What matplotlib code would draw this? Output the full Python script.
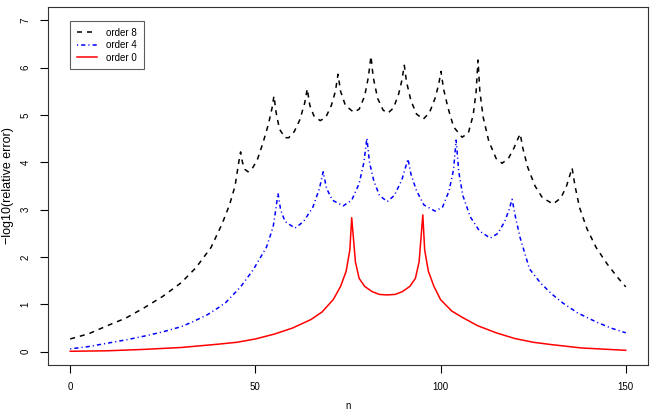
import matplotlib
matplotlib.use("Agg")
import matplotlib.pyplot as plt

plt.rcParams['font.family'] = ['Liberation Sans', 'DejaVu Sans']
plt.rcParams['lines.scale_dashes'] = False

# order 8 (black dashed)
n8 = [0, 5, 10, 15, 20, 25, 30, 34, 38, 41, 43, 44.5, 45.5, 46, 46.5, 47.2, 48,
      49, 50.5, 52, 53.5, 54.5, 55, 55.6, 56.5, 58, 59, 60.5, 62, 63.3, 64,
      64.7, 65.8, 67.5, 69, 70.5, 71.6, 72.3, 73, 74.3, 76.5, 78, 79.5, 80.5,
      81.2, 81.8, 83, 84.5, 85.8, 87.3, 88.7, 89.6, 90.2, 90.8, 92, 93.5, 95.3,
      97, 98.5, 99.5, 100.1, 100.8, 102, 103.5, 105.8, 107.5, 108.8, 109.6,
      110.1, 110.6, 111.5, 113, 115, 116.6, 118.3, 119.8, 121, 121.5, 122.2,
      123.5, 125.5, 127.5, 130.4, 132.5, 134, 135.5, 136.3, 137.5, 139.5, 142,
      145, 148, 150]
e8 = [0.27, 0.38, 0.55, 0.71, 0.93, 1.17, 1.46, 1.78, 2.20, 2.70, 3.10, 3.50,
      4.00, 4.22, 4.00, 3.85, 3.80, 3.85, 4.05, 4.40, 4.80, 5.15, 5.40, 5.05,
      4.70, 4.52, 4.52, 4.65, 4.90, 5.25, 5.55, 5.20, 4.98, 4.88, 4.95, 5.20,
      5.50, 5.86, 5.50, 5.20, 5.06, 5.12, 5.40, 5.80, 6.24, 5.80, 5.35, 5.10,
      5.04, 5.15, 5.45, 5.75, 6.05, 5.70, 5.30, 5.02, 4.91, 5.05, 5.35, 5.65,
      5.92, 5.55, 5.15, 4.75, 4.53, 4.62, 5.00, 5.50, 6.16, 5.50, 4.95, 4.45,
      4.08, 3.98, 4.08, 4.30, 4.52, 4.60, 4.30, 3.90, 3.50, 3.25, 3.12, 3.25,
      3.50, 3.88, 3.50, 3.05, 2.60, 2.20, 1.85, 1.55, 1.37]

# order 4 (blue dot-dash)
n4 = [0, 5, 10, 15, 20, 25, 30, 33, 37, 40, 42, 46, 49.4, 53, 54.8, 55.5, 56.1,
      56.8, 58, 60.7, 63, 65.5, 67.3, 68.3, 69.2, 70.8, 73.7, 76, 78, 79.3,
      80.1, 80.8, 82, 83.5, 85.6, 87.5, 89.5, 91.2, 92, 93.5, 95.5, 98.5, 100.5,
      102.3, 103.5, 104.2, 104.9, 106, 108, 110.5, 113.4, 115.5, 117.3, 118.5,
      119.3, 120.2, 121.5, 124, 127, 130, 133, 137, 142, 146, 150]
e4 = [0.06, 0.11, 0.18, 0.25, 0.33, 0.42, 0.53, 0.63, 0.78, 0.93, 1.04, 1.37,
      1.73, 2.21, 2.64, 3.00, 3.35, 3.00, 2.75, 2.61, 2.75, 3.05, 3.45, 3.80,
      3.45, 3.20, 3.08, 3.20, 3.55, 4.00, 4.51, 4.00, 3.60, 3.30, 3.17, 3.30,
      3.62, 4.07, 3.75, 3.40, 3.10, 2.97, 3.05, 3.40, 3.85, 4.47, 3.80, 3.30,
      2.85, 2.55, 2.40, 2.50, 2.75, 3.00, 3.22, 2.85, 2.40, 1.75, 1.45, 1.22,
      1.03, 0.82, 0.63, 0.50, 0.40]

# order 0 (red solid)
n0 = [0, 10, 20, 30, 40, 45, 50, 55, 60, 65, 68, 71, 73, 74.5, 75.5, 76, 77, 78,
      79.5, 81.5, 83.5, 85.5, 87.7, 89.7, 91.7, 93.2, 94.2, 95.2, 95.7, 96.7,
      98.2, 100, 103, 106, 110, 115, 120, 125, 130, 138, 150]
e0 = [0.01, 0.02, 0.05, 0.09, 0.16, 0.20, 0.27, 0.37, 0.50, 0.68, 0.84, 1.10,
      1.38, 1.70, 2.15, 2.83, 1.90, 1.55, 1.38, 1.27, 1.21, 1.20, 1.21, 1.27,
      1.38, 1.55, 1.90, 2.89, 2.15, 1.70, 1.38, 1.10, 0.86, 0.72, 0.55, 0.40,
      0.28, 0.20, 0.15, 0.08, 0.03]

fig = plt.figure(figsize=(6.51, 4.13), dpi=100)
ax = fig.add_axes([48 / 651, 48 / 413, 600 / 651, 358 / 413])

ax.plot(n8, e8, color='black', linewidth=1.1, dashes=(3.6, 3.6), label='order 8')
ax.plot(n4, e4, color='blue', linewidth=1.1, dashes=(0.8, 2.2, 3.0, 2.2), label='order 4')
ax.plot(n0, e0, color='red', linewidth=1.1, label='order 0')

ax.set_xlim(-6, 156)
ax.set_ylim(-0.28, 7.28)
ax.set_xticks([0, 50, 100, 150])
ax.set_yticks(range(0, 8))
ax.tick_params(direction='out', length=5.5, width=0.8, labelsize=7, pad=7)
for lab in ax.get_yticklabels():
    lab.set_rotation(90)
    lab.set_verticalalignment('center')
for sp in ax.spines.values():
    sp.set_linewidth(0.8)
    sp.set_color('#333333')

ax.set_xlabel('n', fontsize=7, labelpad=6)
ax.set_ylabel('\u2212log10(relative error)', fontsize=9, labelpad=5)

leg = ax.legend(loc='upper left', bbox_to_anchor=(70 / 651, 1 - 21 / 413),
                bbox_transform=fig.transFigure, borderaxespad=0, fontsize=7,
                fancybox=False, handlelength=2.1, handletextpad=0.9,
                labelspacing=0.25, borderpad=0.7)
leg.get_frame().set_edgecolor('#333333')
leg.get_frame().set_linewidth(0.8)

fig.savefig('out.png', dpi=100)
